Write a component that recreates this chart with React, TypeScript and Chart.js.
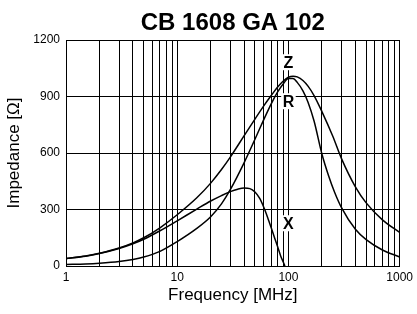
import React, { useEffect, useRef } from "react";
import { Chart, registerables } from "chart.js";

Chart.register(...registerables);

const titleText = "CB 1608 GA 102";
const xAxisTitle = "Frequency [MHz]";
const yAxisTitle = "Impedance [Ω]";

const xMin = 1;
const xMax = 1000;
const xLabelValues = [1, 10, 100, 1000];
const xGridValues = [
  1, 2, 3, 4, 5, 6, 7, 8, 9,
  10, 20, 30, 40, 50, 60, 70, 80, 90,
  100, 200, 300, 400, 500, 600, 700, 800, 900,
  1000,
];
const yTicks = [0, 300, 600, 900, 1200];

const zFreq = [1, 1.5, 2, 3, 4, 5, 7, 10, 15, 20, 25, 30, 40, 50, 60, 70, 80, 90, 100, 110, 120, 135, 150, 170, 200, 250, 300, 400, 500, 700, 1000];
const zVals = [40, 53, 68, 96, 123, 150, 203, 272, 362, 440, 512, 578, 692, 780, 850, 905, 950, 982, 1002, 1008, 1004, 985, 955, 905, 820, 690, 570, 420, 335, 245, 178];

const rFreq = [1, 1.5, 2, 3, 4, 5, 7, 10, 15, 20, 25, 30, 40, 50, 60, 70, 80, 90, 100, 110, 120, 135, 150, 170, 200, 230, 260, 300, 400, 500, 700, 1000];
const rVals = [8, 11, 15, 24, 35, 48, 78, 130, 200, 262, 330, 405, 549, 673, 777, 861, 924, 968, 995, 995, 975, 930, 870, 770, 595, 478, 392, 310, 195, 140, 85, 48];

const xFreq = [1, 1.5, 2, 3, 4, 5, 7, 10, 15, 20, 25, 30, 35, 40, 45, 50, 55, 60, 65, 70, 75, 80, 85, 90, 93];
const xVals = [40, 52, 66, 93, 118, 142, 187, 240, 302, 345, 374, 395, 408, 414, 411, 393, 360, 312, 258, 203, 150, 102, 55, 20, 0];

const markerTexts = ["Z", "R", "X"];
const markerFreq = 100;
const markerValues = [1082, 875, 227];

const FONT = '"Liberation Sans", Arial, Helvetica, sans-serif';

const overlayPlugin = {
  id: "overlay",
  afterDatasetsDraw(chart: any) {
    const { ctx, chartArea } = chart;
    const xs = chart.scales.x;
    const ys = chart.scales.y;
    ctx.save();
    ctx.font = `bold 16px ${FONT}`;
    ctx.textAlign = "center";
    ctx.textBaseline = "alphabetic";
    markerTexts.forEach((t, i) => {
      const px = xs.getPixelForValue(markerFreq);
      const py = ys.getPixelForValue(markerValues[i]);
      const w = ctx.measureText(t).width + 3;
      const h = 16;
      ctx.fillStyle = "#fff";
      ctx.fillRect(px - w / 2, py - h / 2, w, h);
      ctx.fillStyle = "#000";
      ctx.fillText(t, px, py + 6);
    });
    ctx.font = `bold 24px ${FONT}`;
    ctx.fillStyle = "#000";
    ctx.fillText(titleText, (chartArea.left + chartArea.right) / 2, 30);
    ctx.restore();
  },
};

function toPoints(fs: number[], vs: number[]) {
  return fs.map((f, i) => ({ x: f, y: vs[i] }));
}

export default function App() {
  const ref = useRef<HTMLCanvasElement | null>(null);

  useEffect(() => {
    if (!ref.current) return;
    Chart.defaults.font.family = FONT;
    Chart.defaults.color = "#000";
    const lineStyle = {
      borderColor: "#000",
      borderWidth: 1.5,
      pointRadius: 0,
      fill: false,
      cubicInterpolationMode: "monotone" as const,
    };
    const chart = new Chart(ref.current, {
      type: "line",
      data: {
        datasets: [
          { label: "Z", data: toPoints(zFreq, zVals), ...lineStyle },
          { label: "R", data: toPoints(rFreq, rVals), ...lineStyle },
          { label: "X", data: toPoints(xFreq, xVals), ...lineStyle },
        ],
      },
      options: {
        animation: false,
        responsive: false,
        layout: { padding: { top: 40, right: 14, left: 0, bottom: 0 } },
        plugins: {
          legend: { display: false },
          title: { display: false },
          tooltip: { enabled: false },
        },
        scales: {
          x: {
            type: "logarithmic",
            min: xMin,
            max: xMax,
            afterBuildTicks: (scale: any) => {
              scale.ticks = xGridValues.map((v) => ({ value: v }));
            },
            afterFit: (scale: any) => {
              scale.height = 48;
            },
            ticks: {
              autoSkip: false,
              maxRotation: 0,
              padding: 4,
              font: { size: 12 },
              color: "#000",
              callback: (v: any) => (xLabelValues.includes(Number(v)) ? String(v) : ""),
            },
            grid: { color: "#000", lineWidth: 1, drawTicks: false },
            border: { color: "#000", width: 1 },
            title: {
              display: true,
              text: xAxisTitle,
              font: { size: 17 },
              color: "#000",
              padding: { top: 0, bottom: 8 },
            },
          },
          y: {
            min: 0,
            max: 1200,
            afterBuildTicks: (scale: any) => {
              scale.ticks = yTicks.map((v) => ({ value: v }));
            },
            afterFit: (scale: any) => {
              scale.width = 66;
            },
            ticks: {
              padding: 6,
              font: { size: 12 },
              color: "#000",
              callback: (v: any) => String(v),
            },
            grid: { color: "#000", lineWidth: 1, drawTicks: false },
            border: { color: "#000", width: 1 },
            title: {
              display: true,
              text: yAxisTitle,
              font: { size: 17 },
              color: "#000",
              padding: { top: 4, bottom: 0 },
            },
          },
        },
      },
      plugins: [overlayPlugin],
    });
    return () => chart.destroy();
  }, []);

  return (
    <div style={{ position: "fixed", left: 0, top: 0, width: 417, height: 314, background: "#fff" }}>
      <canvas ref={ref} width={417} height={314} />
    </div>
  );
}
